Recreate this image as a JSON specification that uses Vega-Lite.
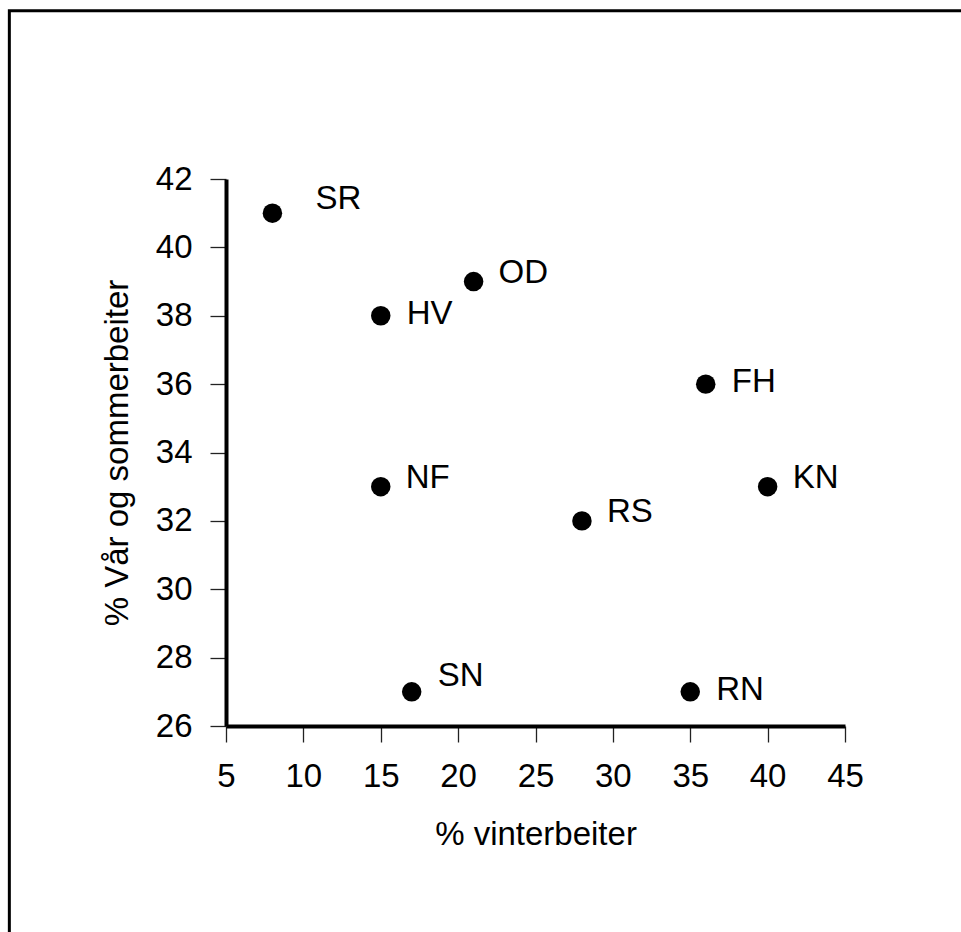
{
  "$schema": "https://vega.github.io/schema/vega-lite/v6.json",
  "autosize": {"type": "none"},
  "width": 619,
  "height": 547,
  "padding": {"left": 226, "top": 179, "right": 116, "bottom": 206},
  "background": "white",
  "config": {
    "view": {"stroke": null},
    "font": "Liberation Sans",
    "axis": {
      "grid": false,
      "domainColor": "black",
      "domainWidth": 4,
      "tickColor": "#222222",
      "tickWidth": 1.3,
      "tickSize": 16,
      "labelFlush": false,
      "labelOverlap": false,
      "labelFont": "Liberation Sans",
      "labelFontSize": 33,
      "labelColor": "black",
      "labelPadding": 18,
      "titleFont": "Liberation Sans",
      "titleFontSize": 33,
      "titleFontWeight": "normal",
      "titleColor": "black"
    }
  },
  "data": {
    "values": [
      {"site": "SR", "vinter": 8, "sommer": 41},
      {"site": "HV", "vinter": 15, "sommer": 38},
      {"site": "OD", "vinter": 21, "sommer": 39},
      {"site": "FH", "vinter": 36, "sommer": 36},
      {"site": "NF", "vinter": 15, "sommer": 33},
      {"site": "KN", "vinter": 40, "sommer": 33},
      {"site": "RS", "vinter": 28, "sommer": 32},
      {"site": "SN", "vinter": 17, "sommer": 27},
      {"site": "RN", "vinter": 35, "sommer": 27}
    ]
  },
  "layer": [
    {
      "data": {"values": [{"frame": 1}]},
      "mark": {"type": "rect", "fill": null, "stroke": "black", "strokeWidth": 3, "clip": false},
      "encoding": {
        "x": {"datum": -9, "type": "quantitative", "scale": {"domain": [5, 45], "nice": false, "zero": false}, "title": "% vinterbeiter"},
        "x2": {"datum": 55},
        "y": {"datum": 46.92, "type": "quantitative", "scale": {"domain": [26, 42], "nice": false, "zero": false}, "title": "% Vår og sommerbeiter"},
        "y2": {"datum": 18}
      }
    },
    {
      "mark": {"type": "point", "filled": true, "shape": "circle", "size": 380, "color": "black", "opacity": 1},
      "encoding": {
        "x": {"field": "vinter", "type": "quantitative", "scale": {"domain": [5, 45], "nice": false, "zero": false}, "axis": {"values": [5, 10, 15, 20, 25, 30, 35, 40, 45], "titlePadding": 25}, "title": "% vinterbeiter"},
        "y": {"field": "sommer", "type": "quantitative", "scale": {"domain": [26, 42], "nice": false, "zero": false}, "axis": {"values": [26, 28, 30, 32, 34, 36, 38, 40, 42], "titlePadding": 21}, "title": "% Vår og sommerbeiter"}
      }
    },
    {
      "transform": [{"filter": {"field": "site", "oneOf": ["FH", "HV", "RN"]}}],
      "mark": {"type": "text", "align": "left", "baseline": "middle", "dx": 26, "dy": -2, "fontSize": 33, "color": "black"},
      "encoding": {
        "x": {"field": "vinter", "type": "quantitative"},
        "y": {"field": "sommer", "type": "quantitative"},
        "text": {"field": "site"}
      }
    },
    {
      "transform": [{"filter": {"field": "site", "oneOf": ["OD", "NF", "RS", "KN"]}}],
      "mark": {"type": "text", "align": "left", "baseline": "middle", "dx": 25, "dy": -9, "fontSize": 33, "color": "black"},
      "encoding": {
        "x": {"field": "vinter", "type": "quantitative"},
        "y": {"field": "sommer", "type": "quantitative"},
        "text": {"field": "site"}
      }
    },
    {
      "transform": [{"filter": {"field": "site", "equal": "SN"}}],
      "mark": {"type": "text", "align": "left", "baseline": "middle", "dx": 26, "dy": -16, "fontSize": 33, "color": "black"},
      "encoding": {
        "x": {"field": "vinter", "type": "quantitative"},
        "y": {"field": "sommer", "type": "quantitative"},
        "text": {"field": "site"}
      }
    },
    {
      "transform": [{"filter": {"field": "site", "equal": "SR"}}],
      "mark": {"type": "text", "align": "left", "baseline": "middle", "dx": 43, "dy": -14, "fontSize": 33, "color": "black"},
      "encoding": {
        "x": {"field": "vinter", "type": "quantitative"},
        "y": {"field": "sommer", "type": "quantitative"},
        "text": {"field": "site"}
      }
    }
  ]
}
